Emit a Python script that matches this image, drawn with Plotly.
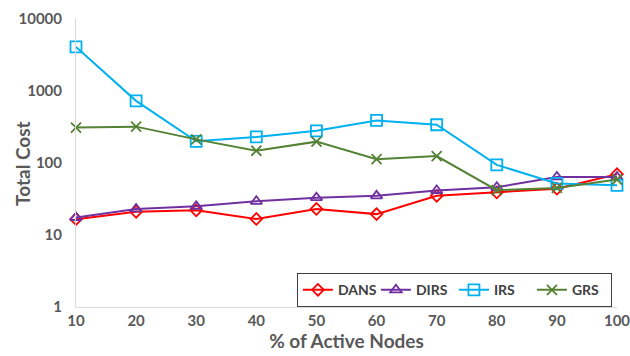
import plotly.graph_objects as go

x_vals = [10, 20, 30, 40, 50, 60, 70, 80, 90, 100]
dans = [16.6, 21, 22, 16.7, 23, 19.5, 35, 39, 44, 70]
dirs = [17.5, 23, 25, 29.4, 33, 35, 41.5, 46, 64, 64]
irs = [4100, 730, 200, 230, 280, 390, 340, 94, 52, 49]
grs = [310, 320, 213, 148, 198, 113, 125, 42, 45, 59]

series = [
    ("DANS", dans, "#FF0000", "diamond-open", 9),
    ("DIRS", dirs, "#7030A0", "triangle-up-open", 10),
    ("IRS", irs, "#00B0F0", "square-open", 11),
    ("GRS", grs, "#548235", "x-thin-open", 10),
]

FONT = "Lato, Open Sans, sans-serif"
fig = go.Figure()
for name, ys, color, sym, size in series:
    fig.add_trace(go.Scatter(
        x=x_vals, y=ys, name="<b>%s</b>" % name, mode="lines+markers",
        line=dict(color=color, width=2),
        marker=dict(symbol=sym, size=size, color=color,
                    line=dict(color=color, width=1.8)),
        cliponaxis=False,
    ))

fig.add_annotation(text="<b>Total Cost</b>", textangle=-90, xref="paper", yref="paper",
                   x=-0.10, y=0.5, xanchor="center", yanchor="middle", showarrow=False,
                   font=dict(size=19, color="#595959", family=FONT))

fig.update_layout(
    width=630, height=356,
    margin=dict(l=76, r=13, t=19, b=49, autoexpand=False),
    paper_bgcolor="white", plot_bgcolor="white",
    font=dict(family=FONT, color="#595959"),
    showlegend=True,
    legend=dict(orientation="h", x=0.408, xanchor="left", y=0, yanchor="bottom",
                bordercolor="#404040", borderwidth=1.2, bgcolor="white",
                font=dict(size=14, color="#404040", family=FONT),
                entrywidth=33, itemwidth=30, tracegroupgap=0),
    xaxis=dict(range=[10, 100], tickvals=x_vals, showgrid=False, automargin=False,
               ticktext=["<b>%d</b>" % v for v in x_vals], ticklabeloverflow="allow",
               showline=True, linecolor="#D9D9D9", linewidth=1, zeroline=False,
               ticks="", tickfont=dict(size=15, color="#595959", family=FONT),
               title=dict(text="<b>% of Active Nodes</b>", font=dict(size=19, color="#595959", family=FONT), standoff=6)),
    yaxis=dict(type="log", range=[0, 4], tickvals=[1, 10, 100, 1000, 10000], automargin=False,
               ticktext=["<b>1</b>", "<b>10</b>", "<b>100</b>", "<b>1000</b>", "<b>10000</b>"],
               showgrid=False, showline=True, linecolor="#D9D9D9", linewidth=1,
               zeroline=False, ticks="", ticklabelstandoff=10,
               tickfont=dict(size=15, color="#595959", family=FONT)),
)
fig.write_html("out.html")
